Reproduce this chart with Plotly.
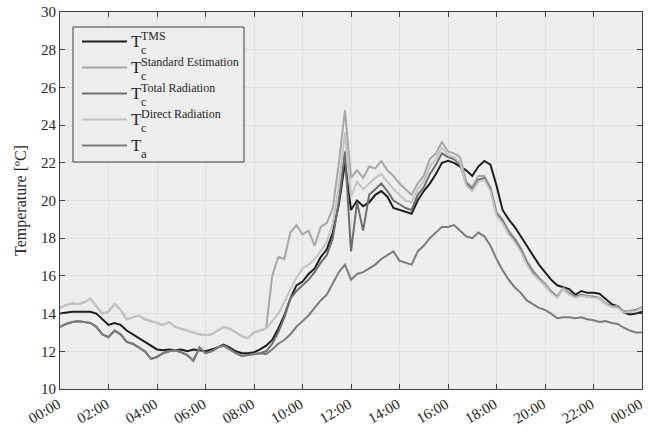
import plotly.graph_objects as go

# time in hours, every 15 minutes from 00:00 to 24:00
hours = [i / 4 for i in range(97)]

t_tms = [14.0, 14.05, 14.1, 14.1, 14.1, 14.1, 14.0, 13.7, 13.4, 13.5, 13.4, 13.1,
         12.9, 12.7, 12.5, 12.3, 12.1, 12.05, 12.1, 12.05, 12.1, 12.0, 12.1, 12.05,
         12.0, 12.1, 12.2, 12.35, 12.2, 12.0, 11.9, 11.9, 11.95, 12.1, 12.3, 12.6,
         13.2, 13.9, 14.8, 15.5, 15.7, 16.1, 16.4, 17.0, 17.4, 18.3, 19.8, 22.0,
         19.5, 20.0, 19.7, 19.9, 20.3, 20.5, 20.2, 19.6, 19.5, 19.4, 19.3, 20.0,
         20.5, 20.9, 21.4, 22.0, 22.1, 22.0, 21.8, 21.6, 21.3, 21.8, 22.1, 21.9,
         20.8, 19.5, 19.0, 18.6, 18.1, 17.6, 17.1, 16.6, 16.2, 15.8, 15.5, 15.4,
         15.3, 15.0, 15.2, 15.1, 15.1, 15.05, 14.8, 14.5, 14.4, 14.05, 13.95, 14.0, 14.1]

t_standard = [14.3, 14.45, 14.55, 14.5, 14.6, 14.8, 14.4, 14.0, 14.1, 14.5, 14.2, 13.7,
              13.8, 13.9, 13.7, 13.6, 13.5, 13.4, 13.55, 13.3, 13.2, 13.1, 13.0, 12.9,
              12.85, 12.9, 13.1, 13.3, 13.2, 13.0, 12.8, 12.7, 13.0, 13.1, 13.2, 16.0,
              17.0, 16.9, 18.3, 18.7, 18.2, 18.4, 17.6, 18.6, 18.8, 19.6, 22.0, 24.8,
              21.2, 21.6, 21.2, 21.8, 21.7, 22.1, 21.6, 21.3, 20.9, 20.6, 20.3, 20.9,
              21.3, 22.2, 22.5, 23.1, 22.6, 22.5, 22.3, 21.0, 20.7, 21.3, 21.3, 20.7,
              19.4, 19.0, 18.4, 18.0, 17.5, 16.8, 16.3, 15.9, 15.6, 15.2, 14.9, 15.35,
              15.1, 14.9, 15.0, 14.95, 14.9, 14.85, 14.55, 14.4, 14.4, 14.1, 14.15, 14.2, 14.35]

t_total = [13.3, 13.45, 13.55, 13.6, 13.55, 13.5, 13.3, 12.9, 12.75, 13.1, 12.9, 12.5,
           12.4, 12.2, 12.0, 11.6, 11.7, 11.9, 12.0, 12.05, 11.95, 11.8, 11.5, 12.2,
           11.9, 12.0, 12.2, 12.3, 12.1, 11.9, 11.75, 11.8, 11.85, 11.9, 12.0, 12.4,
           13.0, 13.8, 14.8, 15.2, 15.5, 15.8, 16.2, 16.7, 17.1, 18.0, 20.0, 22.6,
           17.3, 19.9, 18.4, 20.3, 20.6, 20.9, 20.5, 20.0, 19.8, 19.6, 19.5, 20.3,
           20.7, 21.4, 21.9, 22.5, 22.3, 22.2, 21.9, 20.9, 20.6, 21.1, 21.2, 20.6,
           19.3, 18.9, 18.3, 17.9, 17.4, 16.7, 16.2, 15.85, 15.55, 15.15, 14.9, 15.3,
           15.05, 14.9, 15.0, 14.9, 14.9, 14.8, 14.5, 14.4, 14.35, 14.1, 14.1, 14.2, 14.3]

t_direct = [14.3, 14.45, 14.55, 14.5, 14.6, 14.8, 14.4, 14.0, 14.1, 14.5, 14.2, 13.7,
            13.8, 13.9, 13.7, 13.6, 13.5, 13.4, 13.55, 13.3, 13.2, 13.1, 13.0, 12.9,
            12.85, 12.9, 13.1, 13.3, 13.2, 13.0, 12.8, 12.7, 13.0, 13.1, 13.2, 13.6,
            14.0, 14.6, 15.3, 15.9, 16.4, 16.6, 16.9, 17.3, 17.8, 18.8, 20.8, 23.6,
            20.2, 21.0, 20.6, 20.9, 21.2, 21.4, 21.0, 20.6, 20.3, 20.0, 19.9, 20.6,
            21.0, 21.8, 22.2, 22.8, 22.4, 22.3, 22.0, 20.8, 20.5, 21.0, 21.1, 20.5,
            19.2, 18.8, 18.2, 17.8, 17.3, 16.6, 16.1, 15.8, 15.5, 15.1, 14.85, 15.3,
            15.0, 14.85, 14.95, 14.9, 14.85, 14.8, 14.5, 14.35, 14.3, 14.05, 14.1, 14.15, 14.3]

t_ambient = [13.3, 13.45, 13.55, 13.6, 13.55, 13.5, 13.3, 12.9, 12.75, 13.1, 12.9, 12.5,
             12.4, 12.2, 12.0, 11.6, 11.7, 11.9, 12.0, 12.05, 11.95, 11.8, 11.5, 12.2,
             11.9, 12.0, 12.2, 12.3, 12.1, 11.9, 11.75, 11.8, 11.85, 11.9, 11.85, 12.1,
             12.4, 12.6, 12.9, 13.3, 13.6, 13.9, 14.3, 14.7, 15.0, 15.6, 16.2, 16.6,
             15.8, 16.1, 16.2, 16.4, 16.6, 16.9, 17.1, 17.3, 16.8, 16.7, 16.6, 17.3,
             17.6, 18.0, 18.3, 18.6, 18.6, 18.7, 18.4, 18.1, 18.0, 18.3, 18.1, 17.6,
             16.9, 16.3, 15.8, 15.4, 15.1, 14.7, 14.5, 14.3, 14.2, 14.0, 13.75, 13.8,
             13.8, 13.75, 13.8, 13.7, 13.65, 13.55, 13.6, 13.5, 13.45, 13.25, 13.1, 13.0, 13.0]

x_tickvals = [0, 2, 4, 6, 8, 10, 12, 14, 16, 18, 20, 22, 24]
x_ticktext = ["00:00", "02:00", "04:00", "06:00", "08:00", "10:00", "12:00",
              "14:00", "16:00", "18:00", "20:00", "22:00", "00:00"]

series = [
    ("TMS", t_tms, "#1e1e1e"),
    ("Standard Estimation", t_standard, "#a8a8a8"),
    ("Total Radiation", t_total, "#6e6e6e"),
    ("Direct Radiation", t_direct, "#c4c4c4"),
    ("a", t_ambient, "#7c7c7c"),
]

FONT = "Liberation Serif, Times New Roman, serif"
TXT = "#262626"
fig = go.Figure()
for name, vals, col in series:
    fig.add_trace(go.Scatter(x=hours, y=vals, mode="lines", name=name,
                             line=dict(color=col, width=2), showlegend=False))

# plot area in window pixels: x 60..642, y 12..389 (page margin removed below)
W, H = 648, 434
L, R, T, B = 60, 642, 12, 389
def px(x):
    return (x - L) / (R - L)
def py(y):
    return (B - y) / (B - T)

shapes = [dict(type="rect", xref="paper", yref="paper",
               x0=px(73), x1=px(244), y0=py(27), y1=py(162),
               line=dict(color="#404040", width=1), fillcolor="#eeeeee", layer="above")]
annotations = []
for k, (name, vals, col) in enumerate(series):
    yc = 41.5 + 26 * k
    shapes.append(dict(type="line", xref="paper", yref="paper",
                       x0=px(82), x1=px(127), y0=py(yc), y1=py(yc),
                       line=dict(color=col, width=2), layer="above"))
    annotations.append(dict(xref="paper", yref="paper", x=px(130), y=py(yc),
                            text="T", showarrow=False, xanchor="left", yanchor="middle",
                            borderpad=0, font=dict(family=FONT, size=17, color=TXT)))
    if name == "a":
        annotations.append(dict(xref="paper", yref="paper", x=px(140), y=py(yc + 7.5),
                                text="a", showarrow=False, xanchor="left", yanchor="middle",
                                borderpad=0, font=dict(family=FONT, size=13, color=TXT)))
    else:
        annotations.append(dict(xref="paper", yref="paper", x=px(140), y=py(yc - 5.5),
                                text=name, showarrow=False, xanchor="left", yanchor="middle",
                                borderpad=0, font=dict(family=FONT, size=12, color=TXT)))
        annotations.append(dict(xref="paper", yref="paper", x=px(140), y=py(yc + 8.5),
                                text="c", showarrow=False, xanchor="left", yanchor="middle",
                                borderpad=0, font=dict(family=FONT, size=12, color=TXT)))

axis_common = dict(showline=True, linecolor="#404040", linewidth=1, mirror="allticks",
                   ticks="inside", ticklen=5, tickcolor="#404040", automargin=False,
                   ticklabeloverflow="allow",
                   showgrid=True, gridcolor="#e0e0e0", gridwidth=1, zeroline=False,
                   tickfont=dict(family=FONT, size=15, color=TXT))

fig.update_layout(
    width=W, height=H,
    margin=dict(l=L, r=W - R, t=T, b=H - B, autoexpand=False),
    paper_bgcolor="white", plot_bgcolor="#eeeeee",
    font=dict(family=FONT, color=TXT),
    xaxis=dict(range=[0, 24], tickvals=x_tickvals, ticktext=x_ticktext,
               tickangle=-30, ticklabelshift=-2, **axis_common),
    yaxis=dict(range=[10, 30], dtick=2,
               title=dict(text="Temperature [ºC]", standoff=10,
                          font=dict(family=FONT, size=16, color=TXT)),
               **axis_common),
    shapes=shapes, annotations=annotations,
)

fig.write_html("out.html", config={"displayModeBar": False},
               post_script="document.body.style.margin='0';document.body.style.overflow='hidden';")
